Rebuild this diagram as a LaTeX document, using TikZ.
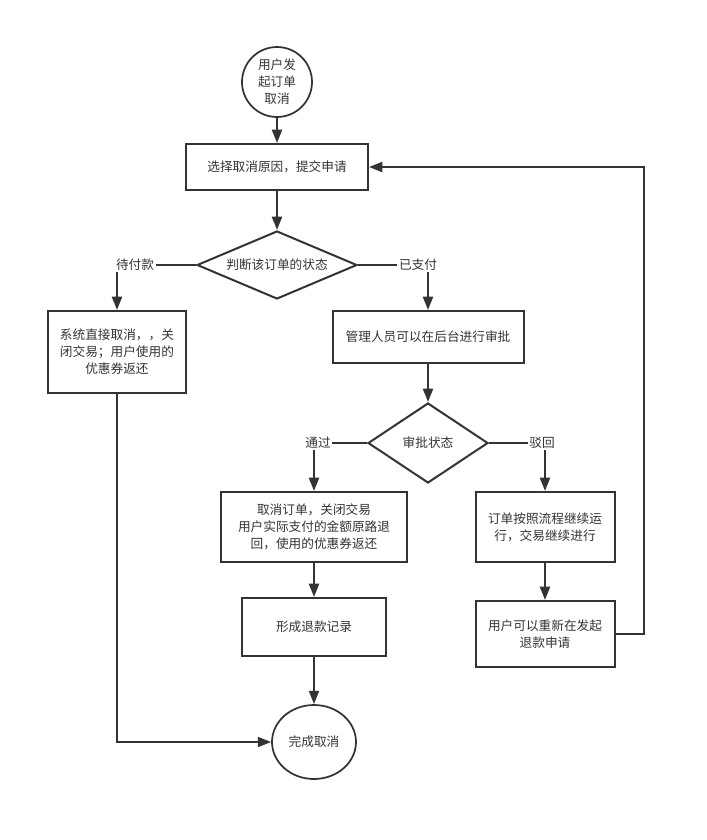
\documentclass[tikz,border=0pt]{standalone}
\usepackage{fontspec}
\setmainfont{Noto Sans CJK SC}
\usepackage{tikz}
\usetikzlibrary{arrows.meta,positioning,shapes.geometric}
\definecolor{linegray}{HTML}{333333}

\begin{document}
\begin{tikzpicture}[
    x=0.75pt, y=-0.75pt,
    box/.style={draw=linegray, line width=1.5pt, align=center, inner sep=0pt, text=linegray},
    decide/.style={draw=linegray, line width=1.5pt, diamond, aspect=2.2, inner sep=0pt, text=linegray},
    term/.style={draw=linegray, line width=1.3pt, ellipse, inner sep=0pt, align=center, text=linegray},
    lbl/.style={text=linegray, inner sep=1pt},
    line/.style={draw=linegray, line width=1.5pt},
    >={Triangle[length=10pt,width=7.5pt]},
    font=\fontsize{9.5}{12.8}\selectfont
]
  \useasboundingbox (0,0) rectangle (707,840);

  \node[term, minimum width=70*0.75pt, minimum height=70*0.75pt] (start) at (277,82) {用户发\\起订单\\取消};
  \node[box, minimum width=182*0.75pt, minimum height=46*0.75pt] (reason) at (277,167) {选择取消原因，提交申请};
  \node[decide, minimum width=160*0.75pt, minimum height=68*0.75pt] (status) at (277,265) {判断该订单的状态};
  \node[lbl] (unpaid) at (135,265) {待付款};
  \node[lbl] (paid) at (418,265) {已支付};
  \node[box, minimum width=138*0.75pt, minimum height=82*0.75pt] (direct) at (117,352) {系统直接取消，，关\\闭交易；用户使用的\\优惠券返还};
  \node[box, minimum width=191*0.75pt, minimum height=52*0.75pt] (admin) at (428,337) {管理人员可以在后台进行审批};
  \node[decide, minimum width=120*0.75pt, minimum height=80*0.75pt, aspect=1.5] (review) at (428,443) {审批状态};
  \node[lbl] (pass) at (318,443) {通过};
  \node[lbl] (reject) at (542,443) {驳回};
  \node[box, minimum width=186*0.75pt, minimum height=70*0.75pt] (refund) at (314,527) {取消订单，关闭交易\\用户实际支付的金额原路退\\回，使用的优惠券返还};
  \node[box, minimum width=139*0.75pt, minimum height=70*0.75pt] (goon) at (545,527) {订单按照流程继续运\\行，交易继续进行};
  \node[box, minimum width=144*0.75pt, minimum height=58*0.75pt] (record) at (314,627) {形成退款记录};
  \node[box, minimum width=139*0.75pt, minimum height=66*0.75pt] (again) at (545,634) {用户可以重新在发起\\退款申请};
  \node[term, minimum width=84*0.75pt, minimum height=74*0.75pt] (done) at (314,742) {完成取消};
  \coordinate (loop) at (644,634);

  % main line
  \draw[line, ->] (start) -- (reason);
  \draw[line, ->] (reason) -- (status);
  \draw[line] (status.west) -- (unpaid.east);
  \draw[line, ->] (unpaid.south -| direct.north) -- (direct.north);
  \draw[line] (status.east) -- (paid.west);
  \draw[line, ->] (paid.south -| admin.north) -- (admin.north);
  \draw[line, ->] (admin) -- (review);
  \draw[line] (review.west) -- (pass.east);
  \draw[line, ->] (pass.south -| refund.north) -- (refund.north);
  \draw[line] (review.east) -- (reject.west);
  \draw[line, ->] (reject.south -| goon.north) -- (goon.north);
  \draw[line, ->] (refund) -- (record);
  \draw[line, ->] (record) -- (done);
  \draw[line, ->] (goon) -- (again);
  % back to start
  \draw[line, ->] (again.east) -- (loop) |- (reason.east);
  \draw[line, ->] (direct.south) |- (done.west);
\end{tikzpicture}
\end{document}
